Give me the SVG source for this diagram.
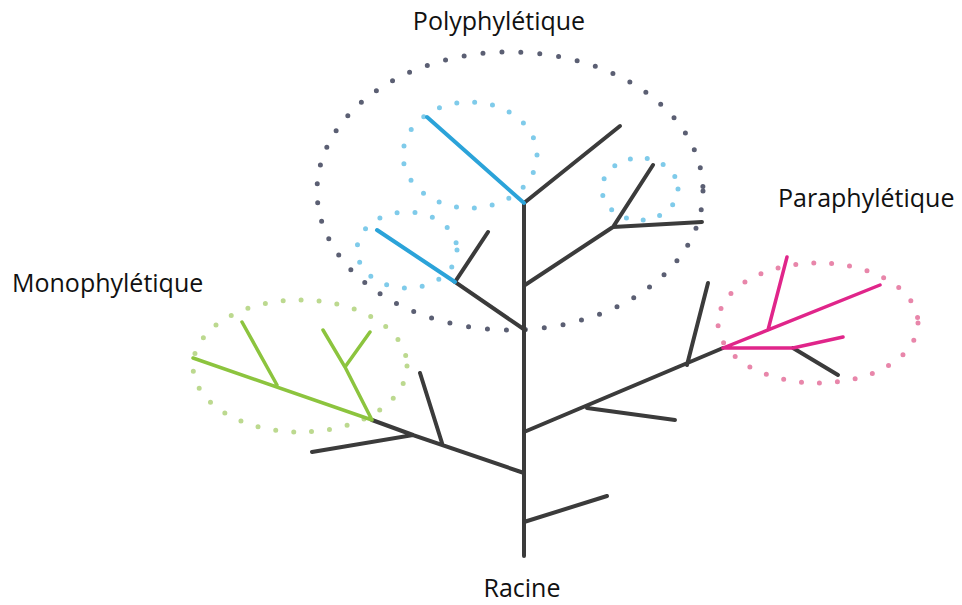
<svg xmlns="http://www.w3.org/2000/svg" width="962" height="605" viewBox="0 0 962 605">
<style>
.t{font-family:"Open Sans","Liberation Sans",sans-serif;font-size:25px;fill:#111}
.br{stroke:#3b3b3b;stroke-width:4;stroke-linecap:round;fill:none}
.bl{stroke:#2ba3d9;stroke-width:4;stroke-linecap:round;fill:none}
.gr{stroke:#8cc43e;stroke-width:3.5;stroke-linecap:round;fill:none}
.pk{stroke:#e0258a;stroke-width:3.5;stroke-linecap:round;fill:none}
.dot{fill:none;stroke-linecap:round;stroke-width:5}
</style>
<rect width="962" height="605" fill="#fff"/>
<g id="ellipses">
<ellipse id="poly-ellipse" class="dot" cx="510" cy="191" rx="193" ry="139" stroke="#5b5f73" stroke-dasharray="0 19"/>
<ellipse id="blue-top" class="dot" cx="470" cy="155" rx="67" ry="53" stroke="#7fcbea" stroke-dasharray="0 18"/>
<ellipse id="blue-left" class="dot" cx="407" cy="250" rx="50" ry="38" stroke="#7fcbea" stroke-dasharray="0 18"/>
<ellipse id="blue-right" class="dot" cx="640" cy="189" rx="38" ry="31" stroke="#7fcbea" stroke-dasharray="0 17"/>
<ellipse id="mono-ellipse" class="dot" cx="300" cy="366" rx="107" ry="66" stroke="#bcd98f" stroke-dasharray="0 18"/>
<ellipse id="para-ellipse" class="dot" cx="818" cy="323" rx="100" ry="60" stroke="#e886aa" stroke-dasharray="0 18"/>
</g>
<g id="connectors">
<path class="br" d="M524 203 L524 556"/>
<path class="br" d="M524 203 L620 126"/>
<path class="br" d="M525 285 L613 227 L653 165 M613 227 L702 222"/>
<path class="br" d="M525 330 L455 282 L488 232"/>
<path class="br" d="M524 473 L413 435 L312 452 M442 443 L420 373 M413 435 L372 420"/>
<path class="br" d="M524 522 L607 496"/>
<path class="br" d="M524 432 L723 348 M587 408 L675 420 M687 365 L708 283"/>
<path class="br" d="M793 348 L838 375"/>
<path class="bl" d="M427 117 L524 203"/>
<path class="bl" d="M377 230 L455 282"/>
<path class="gr" d="M372 420 L193 358 M277 385 L242 322 M372 420 L345 367 L323 330 M345 367 L370 332"/>
<path class="pk" d="M723 348 L880 285 M768 330 L787 257 M723 348 L793 348 L843 337"/>
</g>
<g id="labels">
<text class="t" x="499" y="30" text-anchor="middle">Polyphylétique</text>
<text class="t" x="12" y="292">Monophylétique</text>
<text class="t" x="778" y="207">Paraphylétique</text>
<text class="t" x="522" y="597" text-anchor="middle">Racine</text>
</g>
</svg>
